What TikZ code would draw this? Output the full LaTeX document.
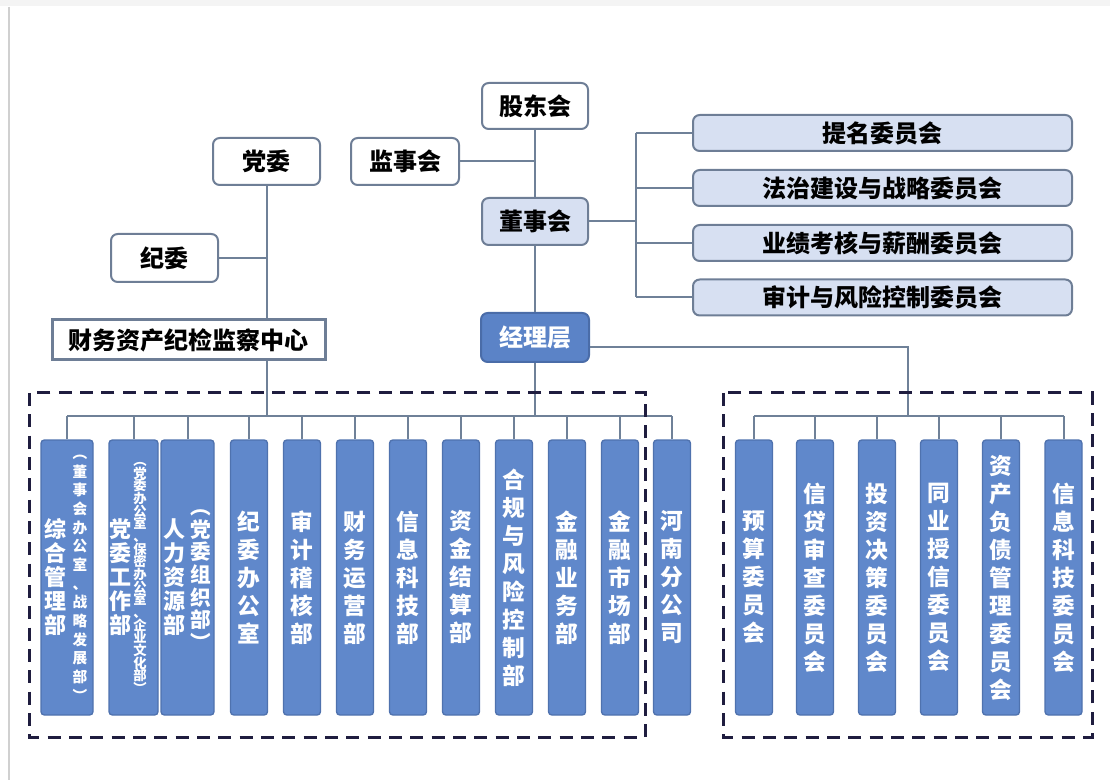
\documentclass[tikz,border=0pt]{standalone}
\usepackage{fontspec}
\setmainfont{Noto Sans CJK SC}
\lineskiplimit=-100pt
\ExplSyntaxOn
\NewDocumentCommand\vstack{m}{\seq_set_split:Nnn \l_tmpa_seq {} {#1}\seq_use:Nn \l_tmpa_seq {\\}}
\ExplSyntaxOff
\definecolor{lnc}{HTML}{6F8198}
\definecolor{bdc}{HTML}{6E7E96}
\definecolor{lbfill}{HTML}{D7E0F2}
\definecolor{mfill}{HTML}{5B83C7}
\definecolor{mbd}{HTML}{4A6CA8}
\definecolor{vfill}{HTML}{6088CB}
\definecolor{vbd}{HTML}{4F72AE}
\definecolor{dashc}{HTML}{1F1D3F}
\definecolor{framec}{HTML}{D0D0D0}
\definecolor{bandc}{HTML}{F4F4F4}
\tikzset{
  ln/.style={draw=lnc, line width=1.5pt},
  wbox/.style={draw=bdc, line width=1.5pt, fill=white, rounded corners=5pt,
    font=\fontsize{18}{20}\selectfont\bfseries, text=black, inner sep=0pt},
  lbbox/.style={wbox, fill=lbfill},
  combox/.style={lbbox, minimum width=284.25pt, minimum height=27pt},
  mgr/.style={wbox, fill=mfill, draw=mbd, text=white},
  vbox/.style={draw=vbd, line width=1pt, fill=vfill, rounded corners=2.5pt, text=white,
    font=\fontsize{17}{21}\selectfont\bfseries, align=center, inner sep=0pt,
    minimum height=206.25pt, minimum width=27.75pt},
  vtxt/.style={text=white, align=center, inner sep=0pt},
  dashbox/.style={draw=dashc, line width=2.25pt, dash pattern=on 9.75pt off 6.25pt},
}
\begin{document}
\begin{tikzpicture}[x=0.75pt,y=-0.75pt]
\useasboundingbox (0,0) rectangle (1110,780);
\fill[bandc] (0,0) rectangle (1110,6);
\draw[framec, line width=1.2pt] (9,7) -- (9,780);

% top nodes
\node[wbox, minimum width=79.5pt, minimum height=34.5pt] (gd) at (535,106) {股东会};
\node[wbox, minimum width=81pt, minimum height=35.25pt] (js) at (405,161.5) {监事会};
\node[lbbox, minimum width=79.5pt, minimum height=35.25pt] (ds) at (535,221.5) {董事会};
\node[mgr, minimum width=81pt, minimum height=36.75pt] (jl) at (535,337.5) {经理层};
\node[wbox, minimum width=80.25pt, minimum height=35.25pt] (dw) at (266.5,161.5) {党委};
\node[wbox, minimum width=80.25pt, minimum height=36pt] (jw) at (164.5,258) {纪委};
\node[wbox, rounded corners=0pt, line width=2.25pt, minimum width=204.75pt, minimum height=30pt] (cw) at (188.5,340) {财务资产纪检监察中心};

% committees
\node[combox] (c1) at (882.5,133) {提名委员会};
\node[combox] (c2) at (882.5,188) {法治建设与战略委员会};
\node[combox] (c3) at (882.5,243) {业绩考核与薪酬委员会};
\node[combox] (c4) at (882.5,297.5) {审计与风险控制委员会};

% left departments
\node[vbox, minimum width=39pt] (d1) at (67,577.5) {};
\node[vtxt, font=\fontsize{16.5}{18}\selectfont\bfseries] (d1a) at (55,577.5) {\vstack{综合管理部}};
\node[vtxt, font=\fontsize{11}{14}\selectfont\bfseries] (d1b) at (80,578) {\vstack{︵董事会办公室、战略发展部︶}};
\node[vbox, minimum width=36.75pt] (d2) at (133.5,577.5) {};
\node[vtxt, font=\fontsize{16.5}{18}\selectfont\bfseries] (d2a) at (120,577.5) {\vstack{党委工作部}};
\node[vtxt, font=\fontsize{10}{9.5}\selectfont\bfseries] (d2b) at (140,578) {\vstack{︵党委办公室、保密办公室、企业文化部︶}};
\node[vbox, minimum width=39.75pt] (d3) at (187.5,577.5) {};
\node[vtxt, font=\fontsize{16.5}{18}\selectfont\bfseries] (d3a) at (174,577.5) {\vstack{人力资源部}};
\node[vtxt, font=\fontsize{15.5}{17}\selectfont\bfseries] (d3b) at (201,580) {\vstack{︵党委组织部︶}};
\node[vbox] (d4) at (249,577.5) {\vstack{纪委办公室}};
\node[vbox] (d5) at (302,577.5) {\vstack{审计稽核部}};
\node[vbox] (d6) at (355,577.5) {\vstack{财务运营部}};
\node[vbox] (d7) at (408,577.5) {\vstack{信息科技部}};
\node[vbox] (d8) at (461,577.5) {\vstack{资金结算部}};
\node[vbox] (d9) at (514,577.5) {\vstack{合规与风险控制部}};
\node[vbox] (d10) at (567,577.5) {\vstack{金融业务部}};
\node[vbox] (d11) at (620,577.5) {\vstack{金融市场部}};
\node[vbox] (d12) at (672,577.5) {\vstack{河南分公司}};

% right committees
\node[vbox] (r1) at (754,577.5) {\vstack{预算委员会}};
\node[vbox] (r2) at (815,577.5) {\vstack{信贷审查委员会}};
\node[vbox] (r3) at (877,577.5) {\vstack{投资决策委员会}};
\node[vbox] (r4) at (939,577.5) {\vstack{同业授信委员会}};
\node[vbox] (r5) at (1001,577.5) {\vstack{资产负债管理委员会}};
\node[vbox] (r6) at (1063.5,577.5) {\vstack{信息科技委员会}};

% connectors
\draw[ln] (gd.south) -- (ds.north);
\draw[ln] (js.east) -- (js.east -| gd.south);
\coordinate (cb) at (636,221.5);
\draw[ln] (ds.east) -- (cb);
\draw[ln] (cb |- c1.west) -- (cb |- c4.west);
\foreach \i in {1,...,4} \draw[ln] (cb |- c\i.west) -- (c\i.west);
\draw[ln] (ds.south) -- (jl.north);
\draw[ln] (dw.south) -- (dw.south |- cw.north);
\draw[ln] (jw.east) -- (jw.east -| dw.south);
\coordinate (lb) at (535,416);
\draw[ln] (jl.south) -- (lb);
\draw[ln] (cw.south -| dw.south) -- (lb -| dw.south);
\draw[ln] (d1.north |- lb) -- (d12.north |- lb);
\foreach \n in {d1,d2,d3,d4,d5,d6,d7,d8,d9,d10,d11,d12} \draw[ln] (\n.north) -- (\n.north |- lb);
\coordinate (rt) at (908,347);
\coordinate (rb) at (908,416);
\draw[ln] (jl.east |- rt) -- (rt) -- (rb);
\draw[ln] (r1.north |- rb) -- (r6.north |- rb);
\foreach \n in {r1,r2,r3,r4,r5,r6} \draw[ln] (\n.north) -- (\n.north |- rb);

% dashed groups
\draw[dashbox] (29,393) rectangle (645,737);
\draw[dashbox] (723,393) rectangle (1092,737);
\end{tikzpicture}
\end{document}
